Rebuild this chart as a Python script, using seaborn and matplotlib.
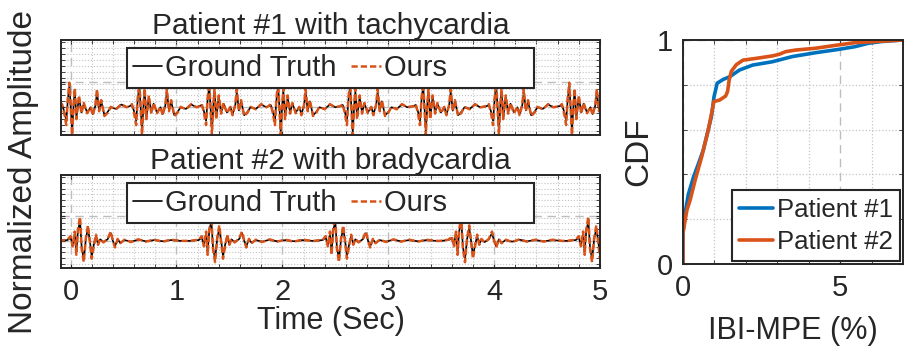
import numpy as np
import pandas as pd
import matplotlib
matplotlib.use('Agg')
import matplotlib.pyplot as plt
from matplotlib.ticker import MultipleLocator, FixedLocator, NullFormatter
import seaborn as sns

# ---------- DATA ----------
# Patient #1 (tachycardia): beat times (s) and one beat shape around the main spike
BEATS_1 = [-0.01, 0.65, 1.31, 1.96, 2.64, 3.33, 4.02, 4.71]
OFFS_1 = [-0.09, -0.07, -0.05, -0.03, -0.016, 0.0, 0.016, 0.025, 0.04, 0.05, 0.066, 0.09, 0.113,
          0.135, 0.167, 0.20, 0.22, 0.245, 0.26, 0.28, 0.30, 0.33, 0.36, 0.39, 0.44, 0.49, 0.54]
GT_1 = [0.03, 0.06, -0.10, -0.34, 0.17, 0.55, -0.16, -0.62, 0.09, 0.40, -0.25, 0.25, -0.13,
        0.09, -0.13, 0.0, -0.17, 0.04, 0.38, -0.08, 0.15, -0.20, -0.12, 0.0, -0.04, 0.07, 0.0]
OURS_1 = [0.03, 0.08, -0.14, -0.45, 0.22, 0.62, -0.22, -0.70, 0.12, 0.48, -0.30, 0.30, -0.16,
          0.11, -0.15, 0.01, -0.20, 0.06, 0.46, -0.10, 0.18, -0.22, -0.14, 0.01, -0.05, 0.08, 0.0]

# Patient #2 (bradycardia)
BEATS_2 = [0.09, 1.33, 2.50, 3.69, 4.89]
OFFS_2 = [-0.20, -0.12, -0.09, -0.07, -0.05, -0.035, -0.02, 0.0, 0.015, 0.035, 0.055, 0.075, 0.095,
          0.11, 0.13, 0.15, 0.17, 0.19, 0.22, 0.26, 0.29, 0.31, 0.33, 0.355, 0.38, 0.42, 0.48,
          0.55, 0.62, 0.70, 0.78, 0.86, 0.95]
GT_2 = [0.0, 0.02, 0.08, -0.10, 0.18, -0.28, 0.25, 0.52, -0.15, -0.48, 0.05, 0.33, -0.05,
        -0.40, -0.10, 0.12, -0.08, 0.04, -0.03, 0.04, 0.20, 0.0, -0.14, 0.04, -0.05, 0.02, -0.02,
        0.03, -0.01, 0.02, -0.01, 0.02, 0.0]
OURS_2 = [0.0, 0.03, 0.12, -0.14, 0.24, -0.36, 0.30, 0.62, -0.20, -0.55, 0.08, 0.40, -0.08,
          -0.46, -0.14, 0.16, -0.10, 0.05, -0.04, 0.05, 0.24, 0.01, -0.17, 0.05, -0.06, 0.03, -0.03,
          0.04, -0.02, 0.03, -0.02, 0.03, 0.0]

# CDF of IBI-MPE (%)
CDF1_X = [0.0, 0.0, 0.07, 0.17, 0.34, 0.5, 0.65, 0.91, 0.99, 1.09, 1.28, 1.49, 1.80, 2.22,
          2.85, 3.48, 4.21, 4.95, 5.47, 5.89, 6.31, 7.0]
CDF1_Y = [0.0, 0.137, 0.226, 0.31, 0.39, 0.45, 0.51, 0.66, 0.747, 0.807, 0.824, 0.836, 0.866, 0.888,
          0.903, 0.926, 0.943, 0.958, 0.97, 0.985, 0.993, 1.0]
CDF2_X = [0.0, 0.0, 0.126, 0.23, 0.39, 0.60, 0.81, 0.985, 1.17, 1.36, 1.42, 1.47, 1.54, 1.70,
          1.91, 2.33, 2.85, 3.06, 3.27, 3.58, 4.21, 4.95, 5.47, 7.0]
CDF2_Y = [0.0, 0.137, 0.24, 0.286, 0.375, 0.48, 0.60, 0.725, 0.732, 0.75, 0.77, 0.82, 0.86, 0.89,
          0.91, 0.918, 0.929, 0.936, 0.948, 0.955, 0.963, 0.978, 0.988, 1.0]

BLUE = '#0072BD'
ORANGE = '#D95319'


def build(beats, offs, vals):
    t = np.concatenate([b + np.array(offs) for b in beats])
    v = np.concatenate([np.array(vals) for _ in beats])
    return t, v


# ---------- STYLE ----------
sns.set_style('ticks')
plt.rcParams['font.family'] = ['Liberation Sans', 'DejaVu Sans']
plt.rcParams['axes.edgecolor'] = '#262626'
plt.rcParams['axes.linewidth'] = 1.4

fig = plt.figure(figsize=(9.13, 3.58), dpi=100)
ax1 = fig.add_axes([0.0668, 0.6229, 0.5904, 0.2654])
ax2 = fig.add_axes([0.0668, 0.2514, 0.5904, 0.2598])
ax3 = fig.add_axes([0.748, 0.2626, 0.241, 0.6257])

panels = [
    (ax1, BEATS_1, OFFS_1, GT_1, OURS_1, 'Patient #1 with tachycardia'),
    (ax2, BEATS_2, OFFS_2, GT_2, OURS_2, 'Patient #2 with bradycardia'),
]
for ax, beats, offs, gt, ours, title in panels:
    t, g = build(beats, offs, gt)
    _, o = build(beats, offs, ours)
    sns.lineplot(x=t, y=g, ax=ax, color='black', lw=1.2, sort=False, estimator=None,
                 label='Ground Truth')
    # trailing spaces widen the legend box like the original
    sns.lineplot(x=t, y=o, ax=ax, color=ORANGE, lw=1.8, sort=False, estimator=None,
                 label='Ours          ', dashes=False)
    ax.lines[-1].set_dashes([2.5, 1.2])
    ax.set_xlim(-0.09, 5.0)
    ax.set_ylim(-0.7, 1.7)
    ax.xaxis.set_major_locator(MultipleLocator(1))
    ax.xaxis.set_minor_locator(MultipleLocator(0.2))
    ax.yaxis.set_major_locator(FixedLocator([0.0, 0.65]))
    ax.yaxis.set_minor_locator(MultipleLocator(0.15))
    ax.yaxis.set_major_formatter(NullFormatter())
    ax.grid(True, which='major', color='#bdbdbd', ls=(0, (6, 4)), lw=1.0)
    ax.grid(True, which='minor', color='#c4c4c4', ls=':', lw=0.8)
    ax.set_axisbelow(True)
    ax.tick_params(which='both', direction='in', top=True, right=True, length=3,
                   labelsize=21, pad=7)
    ax.set_title(title, fontsize=21.5, pad=2)
    leg = ax.legend(loc='upper center', bbox_to_anchor=(0.5, 0.945), ncol=2, fontsize=21,
                    frameon=True, fancybox=False, edgecolor='#262626', framealpha=1,
                    handlelength=1.0, handletextpad=0.1, columnspacing=0.5,
                    borderpad=0.2, borderaxespad=0.1)
    leg.get_frame().set_linewidth(1.5)
    for s in ax.spines.values():
        s.set_visible(True)
    ax.set_ylabel('')

ax1.xaxis.set_major_formatter(NullFormatter())
ax2.set_xlabel('Time (Sec)', fontsize=22, labelpad=0)
fig.text(0.026, 0.52, 'Normalized Amplitude', rotation=90, ha='center', va='center', fontsize=24)

# ---------- CDF ----------
cdf = pd.concat([
    pd.DataFrame({'x': CDF1_X, 'y': CDF1_Y, 'who': 'Patient #1'}),
    pd.DataFrame({'x': CDF2_X, 'y': CDF2_Y, 'who': 'Patient #2'}),
])
sns.lineplot(data=cdf, x='x', y='y', hue='who', palette=[BLUE, ORANGE], lw=2.6,
             sort=False, estimator=None, ax=ax3)
ax3.set_xlim(0, 7)
ax3.set_ylim(0, 1)
ax3.xaxis.set_major_locator(FixedLocator([0, 5]))
ax3.xaxis.set_minor_locator(FixedLocator([1, 2, 3, 4, 6]))
ax3.yaxis.set_major_locator(FixedLocator([0, 1]))
ax3.yaxis.set_minor_locator(FixedLocator([0.2, 0.4, 0.6, 0.8]))
ax3.grid(True, which='major', color='#bdbdbd', ls=(0, (6, 4)), lw=1.0)
ax3.grid(True, which='minor', color='#c4c4c4', ls=':', lw=0.9)
ax3.set_axisbelow(True)
ax3.tick_params(which='both', direction='in', top=True, right=True, length=3,
                labelsize=21, pad=7)
ax3.set_xlabel('IBI-MPE (%)', fontsize=22, labelpad=10)
ax3.set_ylabel('CDF', fontsize=24, labelpad=2)
for s in ax3.spines.values():
    s.set_visible(True)
leg = ax3.legend(loc='lower right', fontsize=18.5, frameon=True, fancybox=False,
                 edgecolor='#262626', framealpha=1, handlelength=1.3, handletextpad=0.15,
                 borderpad=0.3, borderaxespad=0.1, labelspacing=0.3, title=None)
leg.get_frame().set_linewidth(1.5)

fig.savefig('out.png', dpi=100)
